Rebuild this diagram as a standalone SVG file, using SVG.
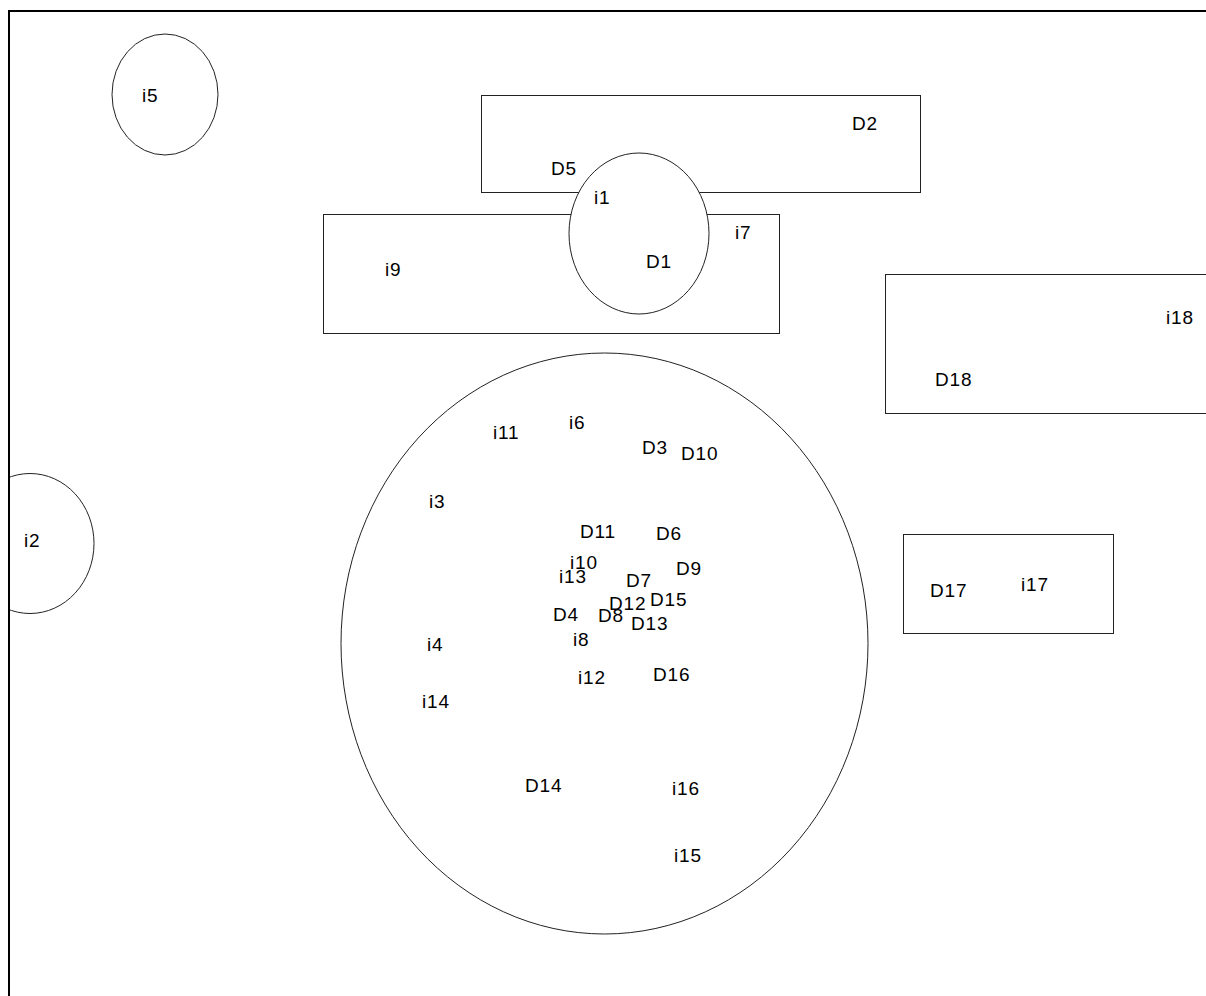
<svg xmlns="http://www.w3.org/2000/svg" width="1206" height="996" viewBox="0 0 1206 996">
<style>
.s{fill:#fff;stroke:#222;stroke-width:1}
text{font-family:"Liberation Sans",Arial,sans-serif;font-size:19px;letter-spacing:0.8px;fill:#000}
</style>
<defs>
<clipPath id="c"><rect x="10" y="12" width="1196" height="984"/></clipPath>
</defs>
<rect x="0" y="0" width="1206" height="996" fill="#fff"/>
<g clip-path="url(#c)">
<g id="i5"><ellipse class="s" cx="165" cy="94.5" rx="53" ry="60.5"/><text x="142" y="102">i5</text></g>
<g id="D2"><rect class="s" x="481.5" y="95.5" width="439" height="97"/><text x="852" y="129.5">D2</text><text x="551" y="175">D5</text></g>
<g id="i9"><rect class="s" x="323.5" y="214.5" width="456" height="119"/><text x="385" y="276">i9</text><text x="735" y="239">i7</text></g>
<g id="i1"><ellipse class="s" cx="639" cy="233.5" rx="70" ry="80.5"/><text x="594" y="204">i1</text><text x="646" y="268">D1</text></g>
<g id="D18"><rect class="s" x="885.5" y="274.5" width="340" height="139"/><text x="1166" y="324">i18</text><text x="935" y="385.5">D18</text></g>
<g id="D17"><rect class="s" x="903.5" y="534.5" width="210" height="99"/><text x="930" y="597">D17</text><text x="1021" y="591">i17</text></g>
<g id="i2"><ellipse class="s" cx="30" cy="543.5" rx="64" ry="70"/><text x="24" y="547">i2</text></g>
<g id="big"><ellipse class="s" cx="604.5" cy="643.5" rx="263.5" ry="290.5"/>
<text x="493" y="439">i11</text>
<text x="569" y="429">i6</text>
<text x="642" y="454">D3</text>
<text x="681" y="460">D10</text>
<text x="429" y="508">i3</text>
<text x="580" y="538">D11</text>
<text x="656" y="540">D6</text>
<text x="570" y="569">i10</text>
<text x="559" y="583">i13</text>
<text x="676" y="575">D9</text>
<text x="626" y="587">D7</text>
<text x="609" y="610">D12</text>
<text x="650" y="606">D15</text>
<text x="553" y="621">D4</text>
<text x="598" y="622">D8</text>
<text x="631" y="630">D13</text>
<text x="573" y="646">i8</text>
<text x="427" y="651">i4</text>
<text x="578" y="684">i12</text>
<text x="653" y="681">D16</text>
<text x="422" y="708">i14</text>
<text x="525" y="792">D14</text>
<text x="672" y="795">i16</text>
<text x="674" y="862">i15</text>
</g>
</g>
<g id="connectors"/>
<path d="M9,996 V11 H1206" fill="none" stroke="#000" stroke-width="2"/>
</svg>
